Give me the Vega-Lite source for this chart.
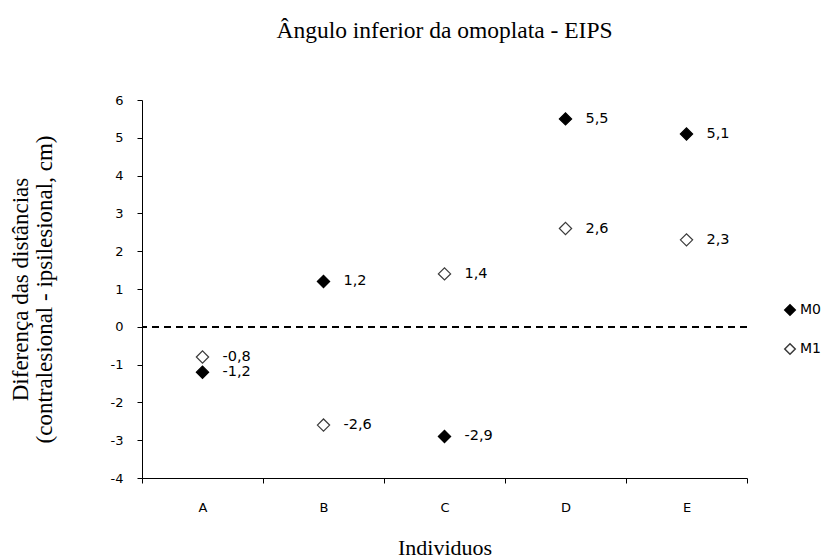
{
  "$schema": "https://vega.github.io/schema/vega-lite/v6.json",
  "width": 605,
  "height": 378,
  "autosize": "none",
  "padding": {"left": 142, "top": 100, "right": 75, "bottom": 80},
  "background": "white",
  "config": {
    "view": {"stroke": null},
    "locale": {"number": {"decimal": ",", "thousands": ".", "grouping": [3], "currency": ["", " €"], "minus": "-"}},
    "legend": {"orient": "none", "legendX": 641, "legendY": 203, "title": null, "padding": 0, "rowPadding": 21, "labelFont": "DejaVu Sans", "labelFontSize": 14, "labelColor": "black", "symbolSize": 110, "labelOffset": 3}
  },
  "title": {"text": "Ângulo inferior da omoplata - EIPS", "font": "Liberation Serif", "fontSize": 23.5, "fontWeight": "normal", "anchor": "middle", "offset": 52, "color": "black"},
  "data": {"values": [
    {"individuo": "A", "serie": "M0", "valor": -1.2},
    {"individuo": "A", "serie": "M1", "valor": -0.8},
    {"individuo": "B", "serie": "M0", "valor": 1.2},
    {"individuo": "B", "serie": "M1", "valor": -2.6},
    {"individuo": "C", "serie": "M0", "valor": -2.9},
    {"individuo": "C", "serie": "M1", "valor": 1.4},
    {"individuo": "D", "serie": "M0", "valor": 5.5},
    {"individuo": "D", "serie": "M1", "valor": 2.6},
    {"individuo": "E", "serie": "M0", "valor": 5.1},
    {"individuo": "E", "serie": "M1", "valor": 2.3}
  ]},
  "layer": [
    {
      "mark": {"type": "point", "filled": true, "shape": "diamond", "size": 150, "strokeWidth": 1.2, "opacity": 1},
      "encoding": {
        "x": {"field": "individuo", "type": "nominal", "scale": {"domain": ["A", "B", "C", "D", "E"], "paddingInner": 0, "paddingOuter": 0},
          "axis": {"title": "Individuos", "titleFont": "Liberation Serif", "titleFontSize": 22, "titleFontWeight": "normal", "titleColor": "black", "titlePadding": 23,
            "labelFont": "DejaVu Sans", "labelFontSize": 13, "labelColor": "black", "labelAngle": 0, "labelPadding": 18, "tickBand": "extent", "tickSize": 5, "tickColor": "black", "domainColor": "black", "grid": false}},
        "y": {"field": "valor", "type": "quantitative", "scale": {"domain": [-4, 6], "nice": false},
          "axis": {"values": [-4, -3, -2, -1, 0, 1, 2, 3, 4, 5, 6], "format": "d", "grid": false, "tickSize": 5, "tickColor": "black", "domainColor": "black",
            "labelFont": "DejaVu Sans", "labelFontSize": 13, "labelColor": "black", "labelPadding": 14, "labelOverlap": false,
            "title": ["Diferença das distâncias", "(contralesional - ipsilesional, cm)"], "titleFont": "Liberation Serif", "titleFontSize": 23, "titleFontWeight": "normal", "titleColor": "black", "titlePadding": 54, "titleLineHeight": 24}},
        "shape": {"field": "serie", "type": "nominal", "scale": {"domain": ["M0", "M1"], "range": ["diamond", "diamond"]}},
        "fill": {"field": "serie", "type": "nominal", "scale": {"domain": ["M0", "M1"], "range": ["black", "white"]}},
        "stroke": {"field": "serie", "type": "nominal", "scale": {"domain": ["M0", "M1"], "range": ["black", "#3a3a3a"]}}
      }
    },
    {
      "mark": {"type": "rule", "strokeDash": [7, 5], "color": "black", "strokeWidth": 1.3},
      "encoding": {"y": {"datum": 0, "type": "quantitative",
          "axis": {"values": [-4, -3, -2, -1, 0, 1, 2, 3, 4, 5, 6], "format": "d", "grid": false, "tickSize": 5, "tickColor": "black", "domainColor": "black",
            "labelFont": "DejaVu Sans", "labelFontSize": 13, "labelColor": "black", "labelPadding": 14, "labelOverlap": false,
            "title": ["Diferença das distâncias", "(contralesional - ipsilesional, cm)"], "titleFont": "Liberation Serif", "titleFontSize": 23, "titleFontWeight": "normal", "titleColor": "black", "titlePadding": 54, "titleLineHeight": 24}}}
    },
    {
      "mark": {"type": "text", "align": "left", "baseline": "middle", "dx": 20, "font": "DejaVu Sans", "fontSize": 14.5, "color": "black"},
      "encoding": {
        "x": {"field": "individuo", "type": "nominal"},
        "y": {"field": "valor", "type": "quantitative",
          "axis": {"values": [-4, -3, -2, -1, 0, 1, 2, 3, 4, 5, 6], "format": "d", "grid": false, "tickSize": 5, "tickColor": "black", "domainColor": "black",
            "labelFont": "DejaVu Sans", "labelFontSize": 13, "labelColor": "black", "labelPadding": 14, "labelOverlap": false,
            "title": ["Diferença das distâncias", "(contralesional - ipsilesional, cm)"], "titleFont": "Liberation Serif", "titleFontSize": 23, "titleFontWeight": "normal", "titleColor": "black", "titlePadding": 54, "titleLineHeight": 24}},
        "text": {"field": "valor", "type": "quantitative", "format": ".1f"}
      }
    }
  ]
}
